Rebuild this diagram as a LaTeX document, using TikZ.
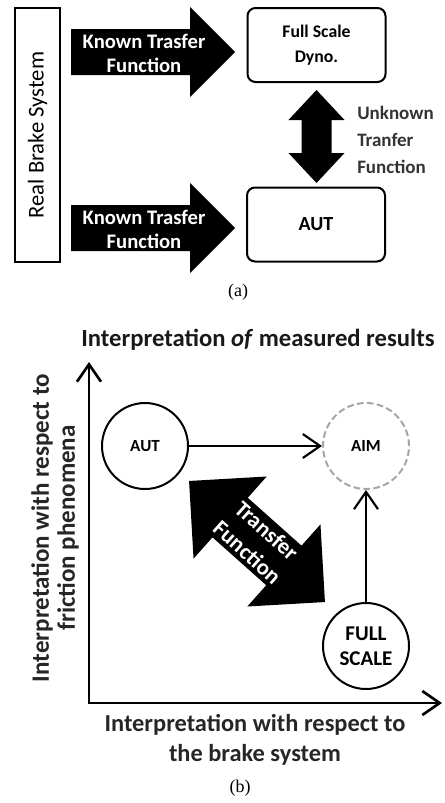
\documentclass[tikz,border=0pt]{standalone}
\usepackage{fontspec}
\setmainfont{Carlito}
\newfontfamily\capfont{Liberation Serif}
\usetikzlibrary{arrows.meta}

\begin{document}
\begin{tikzpicture}[x=0.75pt,y=0.75pt,yscale=-1,xscale=1,
	roundbox/.style={draw=black, line width=1.5pt, rounded corners=6pt, minimum width=103.5pt, minimum height=55.5pt, align=center, inner sep=0pt},
	bubble/.style={draw=black, line width=1.5pt, circle, minimum size=64.5pt, inner sep=0pt, align=center, font=\bfseries\fontsize{12.75}{15}\selectfont},
	barb/.style={-{Straight Barb[length=13pt,width=18pt]}, line width=1.6pt},
	fat/.style={fill=black},
	whitetxt/.style={text=white, align=center, inner sep=0pt, font=\bfseries\fontsize{15.5}{18}\selectfont}]

	\useasboundingbox (0,0) rectangle (444,803);

	%%PART (a)---------------------------------------------
	%%Real brake system bar
	\node [draw=black, line width=1.5pt, rotate=90, minimum width=190.5pt, minimum height=33.75pt, inner sep=0pt, font=\fontsize{17}{20}\selectfont] (brake) at (37.5,135) {Real Brake System};

	%%Known transfer arrow top
	\fill [fat] (71,29) -- (190,29) -- (190,7) -- (235,52) -- (190,97) -- (190,75) -- (71,75) -- cycle;
	%%Known transfer arrow bottom
	\fill [fat] (71,205) -- (190,205) -- (190,183) -- (235,228) -- (190,273) -- (190,251) -- (71,251) -- cycle;
	% Text Node
	\node [whitetxt] (known1) at (144,53.5) {Known Trasfer\\Function};
	% Text Node
	\node [whitetxt] (known2) at (144,229.5) {Known Trasfer\\Function};

	%%Boxes
	\node [roundbox, font=\bfseries\fontsize{13.3}{18.75}\selectfont] (dyno) at (316.5,45) {Full Scale\\Dyno.};
	\node [roundbox, font=\bfseries\fontsize{15}{18}\selectfont] (autbox) at (316,224.5) {AUT};

	%%Unknown transfer double arrow
	\fill [fat] (316.5,90) -- (344.5,120) -- (331.5,120) -- (331.5,153) -- (344.5,153) -- (316.5,183) -- (288.5,153) -- (301.5,153) -- (301.5,120) -- (288.5,120) -- cycle;
	% Text Node
	\node [anchor=west, align=left, inner sep=0pt, text=black!80, font=\bfseries\fontsize{14.25}{20}\selectfont] (unknown) at (357,140) {Unknown\\Tranfer\\Function};

	% Text Node
	\node [font=\capfont\fontsize{13.5}{16}\selectfont] (capa) at (238,292) {(a)};

	%%PART (b)---------------------------------------------
	% Text Node
	\node [text=black!90, font=\bfseries\fontsize{18.5}{22}\selectfont] (title) at (258,340) {Interpretation \textit{of} measured results};

	%%Axes
	\coordinate (O) at (89,703);
	\coordinate (ytip) at (89,362);
	\coordinate (xtip) at (442,703);
	\draw [{Straight Barb[length=13pt,width=18pt]}-{Straight Barb[length=13pt,width=18pt]}, line width=2pt] (ytip) -- (O) -- (xtip);

	%%Circles
	\node [bubble] (aut) at (145,446) {AUT};
	\node [bubble, draw=black!35, dash pattern=on 5pt off 2.5pt] (aim) at (366,446) {AIM};
	\node [bubble, font=\bfseries\fontsize{15.75}{18.75}\selectfont] (full) at (366,646) {FULL\\SCALE};
	\draw [barb] (aut) -- (aim);
	\draw [barb] (full) -- (aim);

	%%Transfer function double arrow
	\begin{scope}[shift={(257,541.5)}, rotate=41.7]
	\fill [fat] (-91,0) -- (-36,55) -- (-36,26.5) -- (36,26.5) -- (36,55) -- (91,0) -- (36,-55) -- (36,-26.5) -- (-36,-26.5) -- (-36,-55) -- cycle;
	\end{scope}
	% Text Node
	\node [whitetxt, rotate=-41.7, font=\bfseries\fontsize{17}{21.75}\selectfont] (transfer) at (257,541.5) {Transfer\\Function};

	%%Axis labels
	\node [rotate=90, align=center, inner sep=0pt, text=black!85, font=\bfseries\fontsize{18.75}{19.5}\selectfont] (ylab) at (55,528) {Interpretation with respect to\\friction phenomena};
	\node [align=center, inner sep=0pt, text=black!85, font=\bfseries\fontsize{18.3}{22.5}\selectfont] (xlab) at (255,740) {Interpretation with respect to\\the brake system};
	% Text Node
	\node [font=\capfont\fontsize{13.5}{16}\selectfont] (capb) at (240,788) {(b)};

\end{tikzpicture}
\end{document}
